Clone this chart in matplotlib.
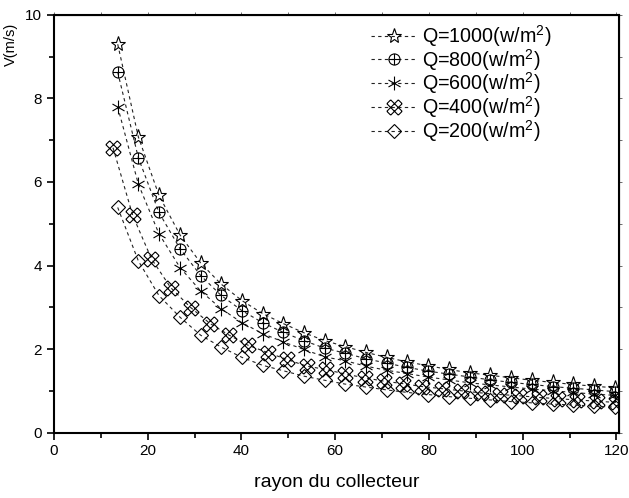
import numpy as np
import matplotlib
matplotlib.use("Agg")
import matplotlib.pyplot as plt
from matplotlib.path import Path
from matplotlib.ticker import MultipleLocator, NullFormatter

plt.rcParams['font.family'] = ['Liberation Sans', 'DejaVu Sans']
plt.rcParams['mathtext.fontset'] = 'custom'
plt.rcParams['mathtext.rm'] = 'Liberation Sans'
plt.rcParams['mathtext.default'] = 'regular'

# data
x_main = [13.6, 18.0, 22.4, 26.9, 31.3, 35.6, 40.1, 44.5, 48.9, 53.3, 57.8, 62.1, 66.5,
          71.0, 75.4, 79.8, 84.2, 88.7, 93.1, 97.6, 102.0, 106.4, 110.8, 115.2, 119.6]
x_q400 = [12.6, 16.8, 20.8, 24.9, 29.2, 33.3, 37.4, 41.4, 45.7, 49.7, 53.9, 58.0, 62.1, 66.3,
          70.4, 74.5, 78.6, 82.8, 86.9, 91.0, 95.1, 99.3, 103.4, 107.5, 111.6, 115.8, 119.9]

v_q1000 = [9.30, 7.08, 5.68, 4.73, 4.06, 3.56, 3.16, 2.85, 2.61, 2.39, 2.20, 2.06, 1.92,
           1.80, 1.69, 1.60, 1.51, 1.43, 1.37, 1.31, 1.25, 1.20, 1.15, 1.11, 1.07]
v_q800 = [8.63, 6.58, 5.27, 4.40, 3.76, 3.29, 2.92, 2.63, 2.40, 2.20, 2.02, 1.90, 1.77,
          1.66, 1.56, 1.47, 1.40, 1.33, 1.26, 1.20, 1.15, 1.10, 1.06, 1.02, 0.98]
v_q600 = [7.80, 5.95, 4.76, 3.95, 3.39, 2.97, 2.63, 2.37, 2.17, 1.99, 1.81, 1.72, 1.59,
          1.49, 1.41, 1.33, 1.26, 1.19, 1.14, 1.09, 1.04, 1.00, 0.96, 0.92, 0.89]
v_q400 = [6.82, 5.20, 4.16, 3.47, 2.99, 2.61, 2.33, 2.09, 1.91, 1.75, 1.59, 1.51, 1.40, 1.31,
          1.23, 1.17, 1.10, 1.05, 1.00, 0.95, 0.91, 0.88, 0.84, 0.81, 0.78, 0.75, 0.72]
v_q200 = [5.39, 4.11, 3.28, 2.76, 2.33, 2.05, 1.80, 1.61, 1.48, 1.35, 1.25, 1.16, 1.09,
          1.02, 0.96, 0.91, 0.86, 0.82, 0.78, 0.74, 0.71, 0.68, 0.66, 0.63, 0.61]

labels = ["Q=1000(w/m$^2$)", "Q=800(w/m$^2$)", "Q=600(w/m$^2$)",
          "Q=400(w/m$^2$)", "Q=200(w/m$^2$)"]

# custom markers: circle with plus, asterisk, hatched diamond
M, L = Path.MOVETO, Path.LINETO
oplus = Path.make_compound_path(
    Path.unit_circle(),
    Path([[-1, 0], [1, 0]], [M, L]),
    Path([[0, -1], [0, 1]], [M, L]))

ast_verts, ast_codes = [], []
for a in [90, 30, 150]:
    t = np.deg2rad(a)
    ast_verts += [[-np.cos(t), -np.sin(t)], [np.cos(t), np.sin(t)]]
    ast_codes += [M, L]
asterisk = Path(ast_verts, ast_codes)

# rotated "#" with closed ends
hv = [[-0.5, -1.5], [-0.5, 1.5], [0.5, -1.5], [0.5, 1.5],
      [-1.5, -0.5], [1.5, -0.5], [-1.5, 0.5], [1.5, 0.5],
      [-1.5, -0.5], [-1.5, 0.5], [1.5, -0.5], [1.5, 0.5],
      [-0.5, -1.5], [0.5, -1.5], [-0.5, 1.5], [0.5, 1.5]]
c, s = np.cos(np.pi / 4), np.sin(np.pi / 4)
hv = [[u * c - v * s, u * s + v * c] for u, v in hv]
hatch = Path(hv, [M, L] * 8)

fig = plt.figure(figsize=(6.29, 4.98), dpi=100)
ax = fig.add_axes([0.0858, 0.1315, 0.898, 0.8384])

line_kw = dict(color='#222222', linewidth=0.8, dashes=(3, 3),
               markerfacecolor='none', markeredgecolor='black', markeredgewidth=0.8)

ax.plot(x_main, v_q1000, marker='*', markersize=11, label=labels[0], **line_kw)
ax.plot(x_main, v_q800, marker=oplus, markersize=8, label=labels[1], **line_kw)
ax.plot(x_main, v_q600, marker=asterisk, markersize=10, label=labels[2], **line_kw)
ax.plot(x_q400, v_q400, marker=hatch, markersize=11, label=labels[3], **line_kw)
ax.plot(x_main, v_q200, marker='D', markersize=6.8, label=labels[4], **line_kw)

ax.set_xlim(0, 120.5)
ax.set_ylim(0, 10)
ax.xaxis.set_major_locator(MultipleLocator(20))
ax.xaxis.set_minor_locator(MultipleLocator(10))
ax.yaxis.set_major_locator(MultipleLocator(2))
ax.yaxis.set_minor_locator(MultipleLocator(1))
ax.tick_params(which='both', direction='out', labelsize=11, width=1.2)
ax.tick_params(which='major', length=5)
ax.tick_params(which='minor', length=3.5)
for sp in ax.spines.values():
    sp.set_linewidth(1.5)

# small ticks on the top and right frame
top = ax.secondary_xaxis('top')
top.xaxis.set_major_locator(MultipleLocator(10))
top.xaxis.set_major_formatter(NullFormatter())
top.tick_params(direction='out', length=2.5, width=0.6, color='#555555')
right = ax.secondary_yaxis('right')
right.yaxis.set_major_locator(MultipleLocator(1))
right.yaxis.set_major_formatter(NullFormatter())
right.tick_params(direction='out', length=2.5, width=0.6, color='#555555')

ax.set_xlabel("rayon du collecteur", fontsize=14, labelpad=11)
ax.set_ylabel("V(m/s)", fontsize=10.5)
ax.yaxis.set_label_coords(-0.064, 0.93)

ax.legend(loc='upper right', bbox_to_anchor=(0.905, 1.014), frameon=False, fontsize=14.2,
          handlelength=2.33, handletextpad=0.25, labelspacing=-0.11, borderpad=0.2)

fig.savefig("out.png", dpi=100)
